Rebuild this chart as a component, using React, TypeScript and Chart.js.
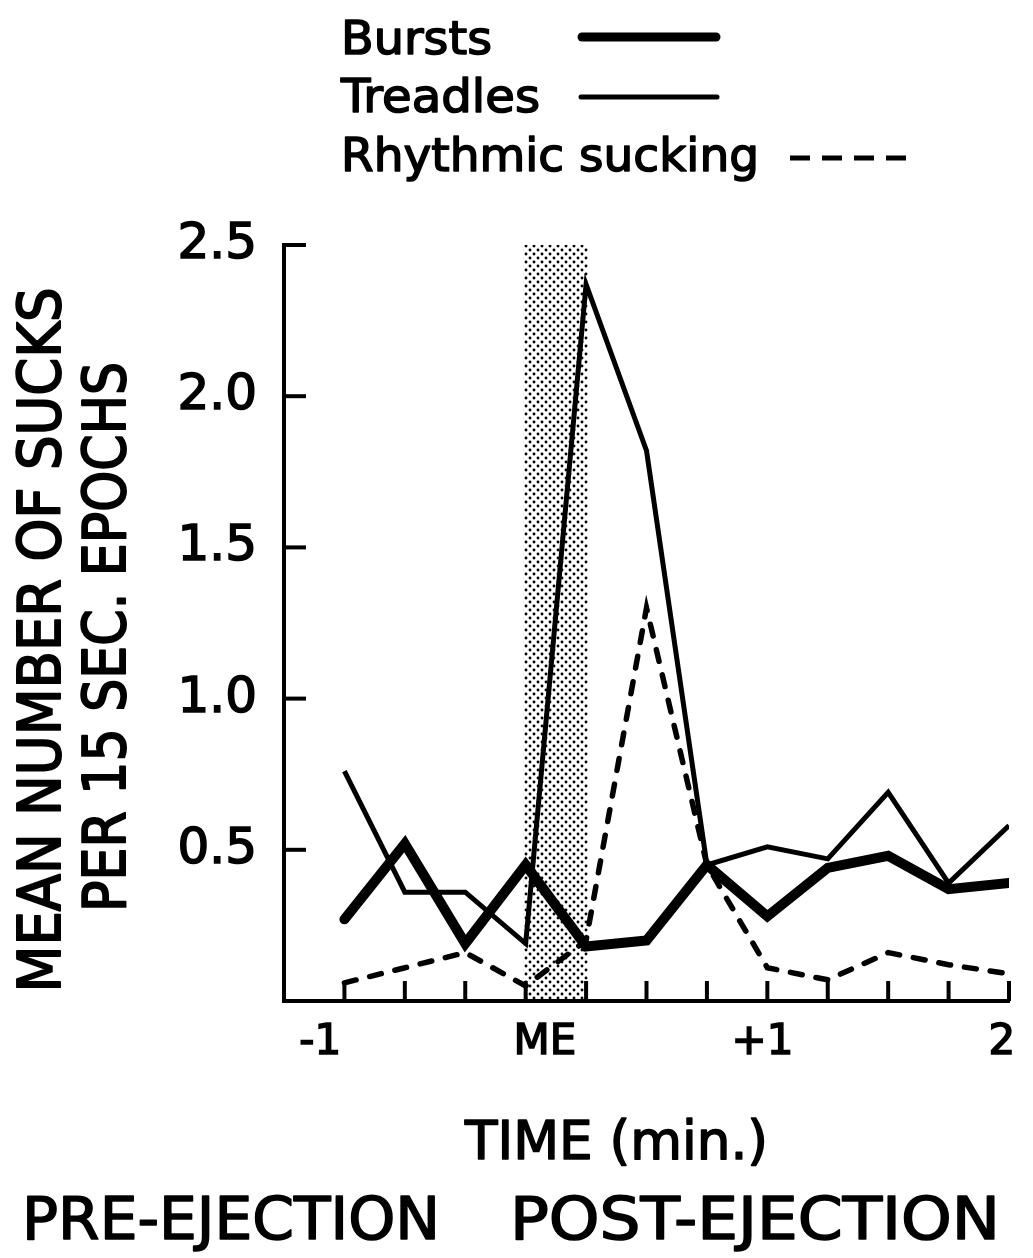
import React, { useEffect, useRef } from 'react';
import { Chart, registerables } from 'chart.js';

Chart.register(...registerables);

// ---- data (time in minutes relative to milk ejection, 15 s epochs) ----
const TIMES = [-0.75, -0.5, -0.25, 0, 0.25, 0.5, 0.75, 1, 1.25, 1.5, 1.75, 2];
const BURSTS = [0.27, 0.52, 0.19, 0.45, 0.18, 0.2, 0.45, 0.28, 0.44, 0.48, 0.37, 0.39];
const TREADLES = [0.76, 0.36, 0.36, 0.19, 2.37, 1.82, 0.45, 0.51, 0.47, 0.69, 0.39, 0.58];
const RHYTHMIC = [0.06, 0.11, 0.16, 0.05, 0.2, 1.3, 0.45, 0.11, 0.07, 0.16, 0.12, 0.09];

const SERIES_NAMES = ['Bursts', 'Treadles', 'Rhythmic sucking'];
const X_TICK_LABELS = ['-1', 'ME', '+1', '2'];
const X_TICK_VALUES = [-0.85, 0.08, 0.98, 1.97];
const Y_TICK_VALUES = [0.5, 1.0, 1.5, 2.0, 2.5];
const ME_PERIOD = [0, 0.25];
const Y_TITLE = ['MEAN NUMBER OF SUCKS', 'PER 15 SEC. EPOCHS'];
const X_TITLE = 'TIME (min.)';
const PHASES = ['PRE-EJECTION', 'POST-EJECTION'];

const FONT = '"DejaVu Sans", "Liberation Sans", sans-serif';
const STROKE = 1.6;

function fitText(ctx: CanvasRenderingContext2D, text: string, x: number, baseline: number, width: number, size: number) {
  ctx.save();
  ctx.font = `${size}px ${FONT}`;
  const w = ctx.measureText(text).width;
  ctx.translate(x, baseline);
  ctx.scale(width / w, 1);
  ctx.textAlign = 'left';
  ctx.textBaseline = 'alphabetic';
  ctx.fillStyle = '#000';
  ctx.strokeStyle = '#000';
  ctx.lineWidth = STROKE;
  ctx.lineJoin = 'round';
  ctx.fillText(text, 0, 0);
  ctx.strokeText(text, 0, 0);
  ctx.restore();
}

function vertText(ctx: CanvasRenderingContext2D, text: string, cx: number, cy: number, length: number, size: number) {
  ctx.save();
  ctx.font = `${size}px ${FONT}`;
  const w = ctx.measureText(text).width;
  ctx.translate(cx, cy);
  ctx.rotate(-Math.PI / 2);
  ctx.scale(length / w, 1);
  ctx.textAlign = 'center';
  ctx.textBaseline = 'alphabetic';
  ctx.fillStyle = '#000';
  ctx.strokeStyle = '#000';
  ctx.lineWidth = STROKE + 0.4;
  ctx.lineJoin = 'round';
  ctx.fillText(text, 0, size * 0.729 / 2);
  ctx.strokeText(text, 0, size * 0.729 / 2);
  ctx.restore();
}

function makeDots(ctx: CanvasRenderingContext2D) {
  const c = document.createElement('canvas');
  c.width = 8;
  c.height = 8;
  const g = c.getContext('2d')!;
  g.fillStyle = '#fff';
  g.fillRect(0, 0, 8, 8);
  g.fillStyle = '#000';
  g.beginPath();
  g.arc(2, 2, 1.45, 0, Math.PI * 2);
  g.fill();
  g.beginPath();
  g.arc(6, 6, 1.45, 0, Math.PI * 2);
  g.fill();
  return ctx.createPattern(c, 'repeat');
}

const decor = {
  id: 'decor',
  beforeDatasetsDraw(chart: any) {
    const { ctx, chartArea, scales } = chart;
    const x = scales.x;
    const x0 = x.getPixelForValue(ME_PERIOD[0]);
    const x1 = x.getPixelForValue(ME_PERIOD[1]);
    ctx.save();
    ctx.fillStyle = makeDots(ctx) || '#bbb';
    ctx.fillRect(x0 - 2, chartArea.top, x1 - x0 + 4, chartArea.bottom - chartArea.top - 2);
    ctx.restore();
  },
  afterDraw(chart: any) {
    const { ctx, chartArea, scales } = chart;
    const x = scales.x;
    const y = scales.y;
    ctx.save();
    ctx.strokeStyle = '#000';
    ctx.lineWidth = 4;
    ctx.lineCap = 'butt';
    // inward tick marks
    TIMES.forEach((t) => {
      const px = x.getPixelForValue(t);
      ctx.beginPath();
      ctx.moveTo(px, chartArea.bottom);
      ctx.lineTo(px, chartArea.bottom - 20);
      ctx.stroke();
    });
    Y_TICK_VALUES.forEach((v) => {
      const py = y.getPixelForValue(v);
      ctx.beginPath();
      ctx.moveTo(chartArea.left, py);
      ctx.lineTo(chartArea.left + 22, py);
      ctx.stroke();
    });

    // legend samples
    ctx.lineCap = 'round';
    ctx.lineWidth = 9;
    ctx.beginPath();
    ctx.moveTo(582, 37);
    ctx.lineTo(716, 37);
    ctx.stroke();
    ctx.lineWidth = 5;
    ctx.beginPath();
    ctx.moveTo(581, 97);
    ctx.lineTo(717, 97);
    ctx.stroke();
    ctx.lineCap = 'butt';
    ctx.setLineDash([20, 12]);
    ctx.beginPath();
    ctx.moveTo(790, 158);
    ctx.lineTo(906, 158);
    ctx.stroke();
    ctx.setLineDash([]);
    ctx.restore();

    // legend labels
    fitText(ctx, SERIES_NAMES[0], 341, 54, 151, 47);
    fitText(ctx, SERIES_NAMES[1], 341, 112, 199, 47);
    fitText(ctx, SERIES_NAMES[2], 341, 171, 418, 47);

    // axis titles
    vertText(ctx, Y_TITLE[0], 38.5, 640, 705, 59);
    vertText(ctx, Y_TITLE[1], 103.5, 637, 550, 59);
    fitText(ctx, X_TITLE, 465, 1159, 303, 54);
    fitText(ctx, PHASES[0], 22, 1239, 418, 59);
    fitText(ctx, PHASES[1], 510, 1239, 490, 59);
  },
};

export default function App() {
  const ref = useRef<HTMLCanvasElement | null>(null);

  useEffect(() => {
    if (!ref.current) return;
    const pts = (arr: number[]) => arr.map((v, i) => ({ x: TIMES[i], y: v }));
    const chart = new Chart(ref.current, {
      type: 'line',
      data: {
        datasets: [
          {
            label: SERIES_NAMES[2],
            data: pts(RHYTHMIC),
            borderColor: '#000',
            borderWidth: 5.5,
            borderDash: [12, 14],
            borderCapStyle: 'round',
            pointRadius: 0,
            fill: false,
            tension: 0,
          },
          {
            label: SERIES_NAMES[1],
            data: pts(TREADLES),
            borderColor: '#000',
            borderWidth: 5,
            pointRadius: 0,
            fill: false,
            tension: 0,
          },
          {
            label: SERIES_NAMES[0],
            data: pts(BURSTS),
            borderColor: '#000',
            borderWidth: 10,
            borderCapStyle: 'round',
            pointRadius: 0,
            fill: false,
            tension: 0,
          },
        ],
      },
      options: {
        responsive: false,
        animation: false,
        events: [],
        layout: { padding: { top: 245, right: 24, left: 0, bottom: 0 } },
        plugins: { legend: { display: false }, tooltip: { enabled: false }, title: { display: false } },
        scales: {
          x: {
            type: 'linear',
            min: -1,
            max: 2,
            grid: { display: false, drawTicks: false },
            border: { display: true, color: '#000', width: 4 },
            afterBuildTicks: (s: any) => {
              s.ticks = X_TICK_VALUES.map((v) => ({ value: v }));
            },
            afterFit: (s: any) => {
              s.height = 257;
            },
            ticks: {
              autoSkip: false,
              maxRotation: 0,
              minRotation: 0,
              padding: 17,
              color: '#000',
              textStrokeColor: '#000',
              textStrokeWidth: STROKE,
              font: { family: FONT, size: 42 },
              callback: (_v: any, i: number) => X_TICK_LABELS[i],
            },
          },
          y: {
            type: 'linear',
            min: 0,
            max: 2.5,
            grid: { display: false, drawTicks: false },
            border: { display: true, color: '#000', width: 4 },
            afterFit: (s: any) => {
              s.width = 284;
            },
            ticks: {
              stepSize: 0.5,
              padding: 27,
              color: '#000',
              textStrokeColor: '#000',
              textStrokeWidth: STROKE,
              font: { family: FONT, size: 50 },
              callback: (v: any) => (Number(v) === 0 ? '' : Number(v).toFixed(1)),
            },
          },
        },
      },
      plugins: [decor],
    } as any);
    return () => chart.destroy();
  }, []);

  return (
    <div style={{ position: 'absolute', left: 0, top: 0, width: 1033, height: 1258, background: '#fff' }}>
      <canvas ref={ref} width={1033} height={1258} style={{ display: 'block', width: 1033, height: 1258 }} />
    </div>
  );
}
